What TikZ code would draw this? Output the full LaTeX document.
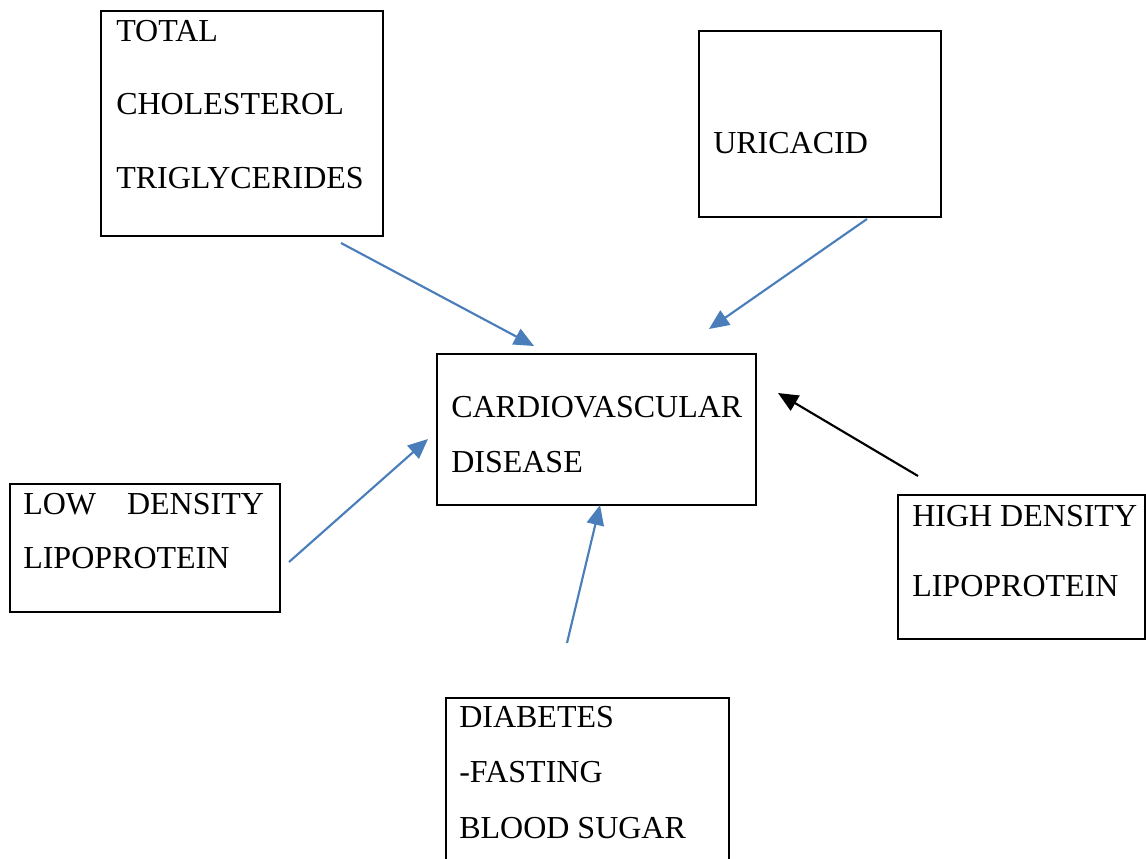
\documentclass[tikz,border=0pt]{standalone}
\usepackage{fontspec}
\setmainfont{Liberation Serif}
\usetikzlibrary{arrows.meta}
\definecolor{arrowblue}{HTML}{4A7EBB}
\tikzset{
  box/.style={draw,line width=1.6pt,anchor=north west,inner sep=0pt},
  lbl/.style={anchor=north west,inner sep=0pt,align=left},
  link/.style={->,line width=1.6pt,arrowblue},
}
\begin{document}
\begin{tikzpicture}[x=0.75pt,y=-0.75pt,>={Triangle[length=15pt,width=13pt]},font=\fontsize{24}{41}\selectfont]
			\useasboundingbox (0,0) rectangle (1146,859);
			% boxes
			\node[box,minimum width=211.5pt,minimum height=168.75pt] (tc) at (100,10) {};
			\node[box,minimum width=181.5pt,minimum height=139.5pt] (ua) at (698,30) {};
			\node[box,minimum width=239.25pt,minimum height=113.25pt] (cvd) at (436,353) {};
			\node[box,minimum width=202.5pt,minimum height=96pt] (ldl) at (9,483) {};
			\node[box,minimum width=185.25pt,minimum height=108pt] (hdl) at (897,494) {};
			\node[box,minimum width=212.25pt,minimum height=127.5pt] (dm) at (445,697) {};
			% texts
			\node[lbl,font=\fontsize{24}{55}\selectfont] (tctext) at (116,20) {TOTAL\\CHOLESTEROL\\TRIGLYCERIDES};
			\node[lbl] (uatext) at (713,132) {URICACID};
			\node[lbl] (cvdtext) at (451,396) {CARDIOVASCULAR\\DISEASE};
			\node[lbl,font=\fontsize{24}{40.5}\selectfont] (ldltext) at (23,493) {\makebox[180.5pt][s]{LOW DENSITY}\\LIPOPROTEIN};
			\node[lbl,font=\fontsize{24}{52.5}\selectfont] (hdltext) at (912,505) {HIGH DENSITY\\LIPOPROTEIN};
			\node[lbl,font=\fontsize{24}{41.6}\selectfont] (dmtext) at (459,706) {DIABETES\\-FASTING\\BLOOD SUGAR};
			% arrow ends
			\coordinate (tcend) at (341,243);
			\coordinate (cvdtop1) at (534,346);
			\coordinate (uaend) at (867,219);
			\coordinate (cvdtop2) at (709,329);
			\coordinate (hdlend) at (918,476);
			\coordinate (cvdright) at (778,393);
			\coordinate (ldlend) at (289,562);
			\coordinate (cvdleft) at (428,439);
			\coordinate (dmend) at (567,643);
			\coordinate (cvdbottom) at (600,505);
			\draw[link] (tcend)--(cvdtop1);
			\draw[link] (uaend)--(cvdtop2);
			\draw[link,black] (hdlend)--(cvdright);
			\draw[link] (ldlend)--(cvdleft);
			\draw[link] (dmend)--(cvdbottom);
		\end{tikzpicture}
\end{document}
